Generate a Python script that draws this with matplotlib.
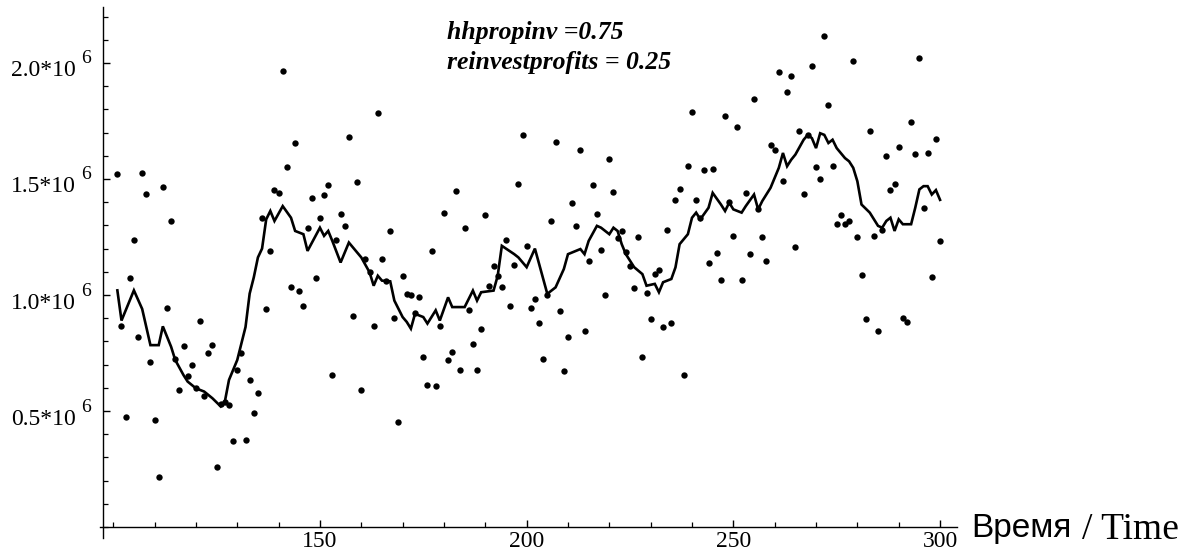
import matplotlib
matplotlib.use("Agg")
import matplotlib.pyplot as plt
import matplotlib.transforms as mtransforms
from matplotlib.ticker import MultipleLocator, FixedLocator, NullFormatter
import numpy as np

# ---- data (values in millions) ----
dot_t = list(range(101, 301))
dot_v = [1.52, 0.865, 0.474, 1.075, 1.238, 0.821, 1.526, 1.435, 0.712, 0.461,
         0.215, 1.466, 0.943, 1.32, 0.724, 0.59, 0.779, 0.652, 0.70, 0.598,
         0.889, 0.565, 0.748, 0.785, 0.258, 0.531, 0.54, 0.528, 0.37, 0.677,
         0.748, 0.374, 0.632, 0.491, 0.577, 1.33, 0.938, 1.19, 1.452, 1.44,
         1.966, 1.552, 1.036, 1.655, 1.018, 0.951, 1.288, 1.42, 1.074, 1.331,
         1.429, 1.472, 0.657, 1.239, 1.35, 1.299, 1.679, 0.908, 1.489, 0.59,
         1.155, 1.10, 0.865, 1.783, 1.155, 1.06, 1.275, 0.9, 0.454, 1.08,
         1.005, 1.0, 0.924, 0.993, 0.735, 0.614, 1.19, 0.608, 0.865, 1.355,
         0.718, 0.755, 1.448, 0.675, 1.288, 0.936, 0.791, 0.675, 0.852, 1.343,
         1.038, 1.123, 1.08, 1.034, 1.239, 0.951, 1.129, 1.479, 1.69, 1.213,
         0.943, 0.981, 0.878, 0.724, 1.00, 1.318, 1.659, 0.932, 0.674, 0.821,
         1.396, 1.298, 1.623, 0.847, 1.148, 1.472, 1.349, 1.196, 0.999, 1.588,
         1.446, 1.245, 1.276, 1.186, 1.126, 1.031, 1.25, 0.735, 1.01, 0.895,
         1.09, 1.108, 0.864, 1.28, 0.878, 1.409, 1.457, 0.657, 1.556, 1.79,
         1.409, 1.33, 1.538, 1.14, 1.543, 1.183, 1.066, 1.772, 1.40, 1.256,
         1.722, 1.065, 1.44, 1.176, 1.845, 1.37, 1.25, 1.146, 1.645, 1.626,
         1.961, 1.49, 1.876, 1.943, 1.208, 1.705, 1.435, 1.69, 1.986, 1.552,
         1.502, 2.114, 1.819, 1.557, 1.306, 1.343, 1.306, 1.318, 2.01, 1.25,
         1.085, 0.895, 1.705, 1.256, 0.847, 1.279, 1.6, 1.452, 1.479, 1.636,
         0.902, 0.884, 1.747, 1.606, 2.023, 1.373, 1.612, 1.076, 1.673, 1.233]

line_t = [101, 102, 105, 107, 109, 111, 112, 114, 115, 117, 118, 120, 122, 124,
          126, 127, 128, 130, 132, 133, 134, 135, 136, 137, 138, 139, 141, 143,
          144, 146, 147, 150, 151, 152, 153, 155, 157, 160, 162, 163, 164, 165,
          167, 168, 170, 171, 172, 173, 175, 176, 178, 179, 181, 182, 185, 187,
          188, 189, 192, 193, 194, 197, 198, 200, 202, 205, 207, 209, 210, 213,
          214, 215, 217, 218, 220, 221, 222, 223, 224, 226, 228, 229, 231, 232,
          233, 235, 236, 237, 239, 240, 241, 242, 244, 245, 247, 248, 249, 250,
          252, 253, 255, 256, 257, 259, 261, 262, 263, 264, 265, 267, 268, 269,
          270, 271, 272, 273, 274, 275, 277, 278, 279, 280, 281, 283, 285, 286,
          287, 288, 289, 290, 291, 293, 294, 295, 296, 297, 298, 299, 300]
line_v = [1.02, 0.89, 1.02, 0.94, 0.784, 0.784, 0.865, 0.777, 0.72, 0.655, 0.627,
          0.598, 0.584, 0.555, 0.52, 0.541, 0.634, 0.72, 0.862, 1.006, 1.076,
          1.162, 1.2, 1.326, 1.362, 1.319, 1.383, 1.333, 1.276, 1.262, 1.19,
          1.29, 1.255, 1.276, 1.233, 1.14, 1.226, 1.162, 1.098, 1.04, 1.083,
          1.062, 1.059, 0.976, 0.905, 0.884, 0.855, 0.919, 0.905, 0.877, 0.934,
          0.89, 0.99, 0.948, 0.948, 1.019, 0.976, 1.012, 1.019, 1.083, 1.212,
          1.176, 1.162, 1.12, 1.2, 1.005, 1.033, 1.112, 1.176, 1.198, 1.176,
          1.233, 1.298, 1.29, 1.262, 1.29, 1.276, 1.219, 1.176, 1.12, 1.09,
          1.04, 1.048, 1.012, 1.055, 1.069, 1.119, 1.219, 1.262, 1.333, 1.355,
          1.326, 1.376, 1.44, 1.39, 1.362, 1.398, 1.369, 1.355, 1.383, 1.433,
          1.369, 1.405, 1.462, 1.548, 1.612, 1.555, 1.583, 1.605, 1.669, 1.69,
          1.676, 1.633, 1.697, 1.69, 1.655, 1.669, 1.633, 1.59, 1.576, 1.548,
          1.49, 1.39, 1.355, 1.298, 1.29, 1.319, 1.333, 1.276, 1.326, 1.305,
          1.305, 1.376, 1.455, 1.469, 1.469, 1.433, 1.452, 1.41]

x_major = [150, 200, 250, 300]
y_major = [0.5, 1.0, 1.5, 2.0]
y_mantissa = ["0.5*10", "1.0*10", "1.5*10", "2.0*10"]
y_exponent = "6"
note_lines = ["hhpropinv =0.75", "reinvestprofits = 0.25"]
xlabel_ru = "Время"
xlabel_en = "/ Time"

scale = 1e6

plt.rcParams["font.family"] = "Liberation Serif"

W, H = 1188, 557
fig = plt.figure(figsize=(W / 100, H / 100), dpi=100)
x0, x1 = 96.8, 304.1
y0, y1 = -0.047, 2.241
ax = fig.add_axes([100 / W, (H - 538) / H, (957 - 100) / W, (538 - 7) / H])
ax.set_xlim(x0, x1)
ax.set_ylim(y0 * scale, y1 * scale)

ax.scatter(dot_t, np.array(dot_v) * scale, s=21, color="black", zorder=3, linewidths=0)
ax.plot(line_t, np.array(line_v) * scale, color="black", lw=1.9, zorder=4,
        solid_joinstyle="miter")

for s in ["top", "right"]:
    ax.spines[s].set_visible(False)
ax.spines["left"].set_position(("data", 97.5))
ax.spines["bottom"].set_position(("data", 0))
ax.spines["left"].set_linewidth(1.0)
ax.spines["bottom"].set_linewidth(1.0)

ax.xaxis.set_major_locator(FixedLocator(x_major))
ax.xaxis.set_minor_locator(MultipleLocator(10))
ax.yaxis.set_major_locator(FixedLocator([v * scale for v in y_major]))
ax.yaxis.set_major_formatter(NullFormatter())
ax.yaxis.set_minor_locator(MultipleLocator(0.1 * scale))
ax.tick_params(which="major", direction="in", length=5, width=1.0, labelsize=17)
ax.tick_params(which="minor", direction="in", length=3.5, width=0.9)
ax.tick_params(axis="x", which="major", pad=3)

# y tick labels: mantissa + raised exponent, Mathematica style
blend = mtransforms.blended_transform_factory(fig.transFigure, ax.transData)
for v, m in zip(y_major, y_mantissa):
    t_main = mtransforms.offset_copy(blend, fig=fig, x=0, y=-8, units="dots")
    ax.text(76 / W, v * scale, m, transform=t_main, fontsize=17,
            ha="right", va="center", clip_on=False)
    t_exp = mtransforms.offset_copy(blend, fig=fig, x=0, y=4, units="dots")
    ax.text(81 / W, v * scale, y_exponent, transform=t_exp, fontsize=14,
            ha="left", va="center", clip_on=False)

# annotation
fig.text(447 / W, 1 - 33 / H, note_lines[0], fontsize=18.5, fontweight="bold",
         fontstyle="italic", family="Liberation Serif", va="center", ha="left")
fig.text(447 / W, 1 - 63 / H, note_lines[1], fontsize=18.5, fontweight="bold",
         fontstyle="italic", family="Liberation Serif", va="center", ha="left")

# axis label
fig.text(971 / W, 1 - 537 / H, xlabel_ru, fontsize=24, family="Liberation Sans",
         va="baseline", ha="left")
fig.text(1082 / W, 1 - 539 / H, xlabel_en, fontsize=27, family="Liberation Serif",
         va="baseline", ha="left")

fig.savefig("out.png", dpi=100)
